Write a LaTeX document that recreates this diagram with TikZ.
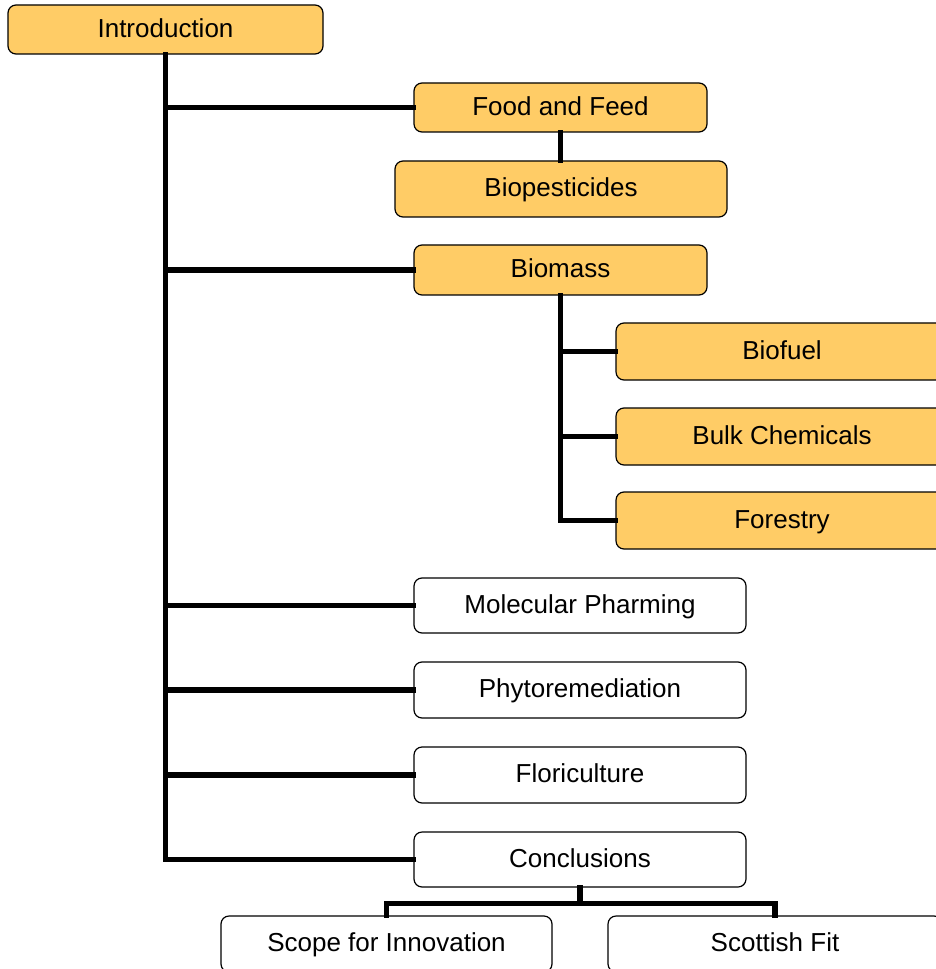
\documentclass[tikz,border=0pt]{standalone}
\usepackage{fontspec}
\setmainfont{Liberation Sans}
\usetikzlibrary{calc}
\definecolor{boxorange}{RGB}{255,204,102}
\tikzset{
  box/.style={draw=black, line width=0.9pt, rounded corners=6pt, inner sep=0pt,
    font=\fontsize{19.5}{23}\selectfont, text=black,
    text height=14.6pt, text depth=3.3pt},
  orangebox/.style={box, fill=boxorange},
  whitebox/.style={box, fill=white},
  link/.style={line width=3.9pt, draw=black, line join=miter, line cap=rect},
}
\begin{document}
\begin{tikzpicture}[x=0.75pt, y=-0.75pt]
  \useasboundingbox (0,0) rectangle (935,969);

  % boxes
  \node[orangebox, minimum width=315*0.75pt, minimum height=49*0.75pt] (intro) at (165.5,29.5) {Introduction};
  \node[orangebox, minimum width=293*0.75pt, minimum height=49*0.75pt] (food) at (560.5,107.5) {Food and Feed};
  \node[orangebox, minimum width=332*0.75pt, minimum height=56*0.75pt] (biopest) at (561,189) {Biopesticides};
  \node[orangebox, minimum width=293*0.75pt, minimum height=50*0.75pt] (biomass) at (560.5,270) {Biomass};
  \node[orangebox, minimum width=332*0.75pt, minimum height=57*0.75pt] (biofuel) at (782,351.5) {Biofuel};
  \node[orangebox, minimum width=332*0.75pt, minimum height=57*0.75pt] (bulk) at (782,436.5) {Bulk Chemicals};
  \node[orangebox, minimum width=332*0.75pt, minimum height=57*0.75pt] (forestry) at (782,520.5) {Forestry};
  \node[whitebox, minimum width=332*0.75pt, minimum height=55*0.75pt] (molecular) at (580,605.5) {Molecular Pharming};
  \node[whitebox, minimum width=332*0.75pt, minimum height=56*0.75pt] (phyto) at (580,690) {Phytoremediation};
  \node[whitebox, minimum width=332*0.75pt, minimum height=56*0.75pt] (flori) at (580,775) {Floriculture};
  \node[whitebox, minimum width=332*0.75pt, minimum height=55*0.75pt] (concl) at (580,859.5) {Conclusions};
  \node[whitebox, minimum width=331*0.75pt, minimum height=56*0.75pt] (scope) at (386.5,944) {Scope for Innovation};
  \node[whitebox, minimum width=334*0.75pt, minimum height=56*0.75pt] (scottish) at (775,944) {Scottish Fit};

  % main trunk and branches
  \draw[link] (intro.south) -- (intro.south |- concl.west) -- (concl.west);
  \draw[link] (intro.south |- food.west) -- (food.west);
  \draw[link] (intro.south |- biomass.west) -- (biomass.west);
  \draw[link] (intro.south |- molecular.west) -- (molecular.west);
  \draw[link] (intro.south |- phyto.west) -- (phyto.west);
  \draw[link] (intro.south |- flori.west) -- (flori.west);

  % food and feed to biopesticides
  \draw[link] (food.south) -- (food.south |- biopest.north);

  % biomass sub-branches
  \draw[link] (biomass.south) -- (biomass.south |- forestry.west) -- (forestry.west);
  \draw[link] (biomass.south |- biofuel.west) -- (biofuel.west);
  \draw[link] (biomass.south |- bulk.west) -- (bulk.west);

  % conclusions split
  \coordinate (cj) at ($(concl.south)+(0,16)$);
  \draw[link] (concl.south) -- (cj);
  \draw[link] (scope.north) |- (cj) -| (scottish.north);
\end{tikzpicture}
\end{document}
